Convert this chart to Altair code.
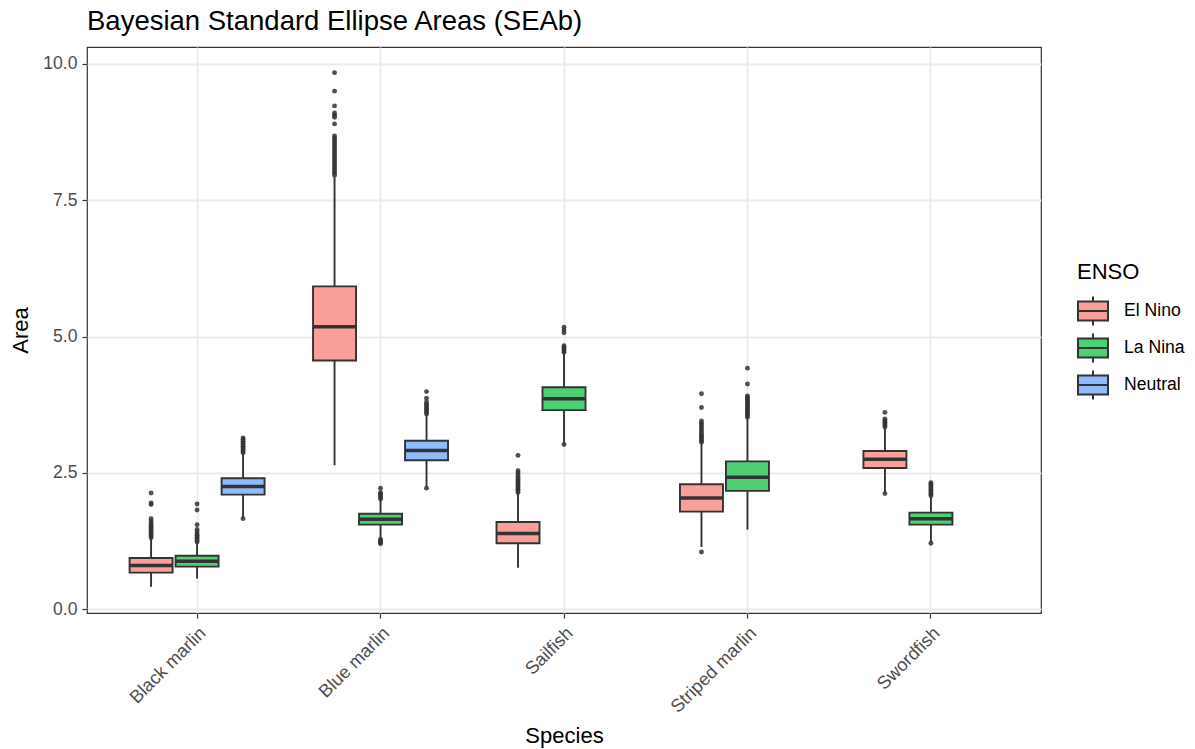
import altair as alt
import pandas as pd

# ---- data ----
species = ["Black marlin", "Black marlin", "Black marlin",
           "Blue marlin", "Blue marlin", "Blue marlin",
           "Sailfish", "Sailfish",
           "Striped marlin", "Striped marlin",
           "Swordfish", "Swordfish"]
enso = ["El Nino", "La Nina", "Neutral",
        "El Nino", "La Nina", "Neutral",
        "El Nino", "La Nina",
        "El Nino", "La Nina",
        "El Nino", "La Nina"]
lower = [0.41, 0.56, 1.68, 2.64, 1.30, 2.24, 0.76, 3.04, 1.14, 1.46, 2.14, 1.23]
q1 = [0.67, 0.78, 2.10, 4.56, 1.55, 2.73, 1.21, 3.65, 1.79, 2.17, 2.59, 1.55]
median = [0.80, 0.88, 2.25, 5.18, 1.65, 2.91, 1.39, 3.86, 2.04, 2.42, 2.75, 1.66]
q3 = [0.94, 0.98, 2.40, 5.92, 1.75, 3.09, 1.60, 4.07, 2.29, 2.71, 2.90, 1.77]
upper = [1.29, 1.21, 2.85, 7.93, 2.00, 3.56, 2.12, 4.69, 3.04, 3.50, 3.32, 2.06]
outliers = [
    [1.31, 1.34, 1.37, 1.40, 1.43, 1.46, 1.49, 1.52, 1.55, 1.58, 1.62, 1.66, 1.92, 1.95, 2.13],
    [1.23, 1.26, 1.29, 1.32, 1.35, 1.38, 1.42, 1.46, 1.55, 1.82, 1.93],
    [1.66, 2.87, 2.90, 2.93, 2.96, 2.99, 3.02, 3.05, 3.08, 3.11, 3.14],
    [7.96, 8.00, 8.04, 8.08, 8.12, 8.16, 8.20, 8.24, 8.28, 8.32, 8.36, 8.40, 8.44,
     8.48, 8.52, 8.56, 8.60, 8.64, 8.68, 8.90, 9.02, 9.06, 9.10, 9.23, 9.50, 9.84],
    [1.20, 1.22, 1.24, 1.26, 1.28, 2.02, 2.05, 2.08, 2.11, 2.14, 2.22],
    [2.22, 3.58, 3.61, 3.64, 3.67, 3.70, 3.73, 3.76, 3.80, 3.87, 3.99],
    [2.14, 2.17, 2.20, 2.23, 2.26, 2.29, 2.32, 2.35, 2.38, 2.42, 2.46, 2.50, 2.54, 2.82],
    [3.02, 4.71, 4.74, 4.77, 4.80, 4.83, 5.07, 5.12, 5.17],
    [1.05, 3.06, 3.09, 3.12, 3.15, 3.18, 3.21, 3.25, 3.29, 3.33, 3.37, 3.41, 3.45, 3.70, 3.95],
    [3.52, 3.55, 3.58, 3.61, 3.64, 3.67, 3.70, 3.73, 3.76, 3.79, 3.82, 3.85, 3.88, 3.91, 4.13, 4.42],
    [2.12, 3.34, 3.37, 3.40, 3.43, 3.46, 3.49, 3.61],
    [1.21, 2.08, 2.11, 2.14, 2.17, 2.20, 2.23, 2.26, 2.29, 2.32],
]
species_order = ["Black marlin", "Blue marlin", "Sailfish", "Striped marlin", "Swordfish"]
enso_order = ["El Nino", "La Nina", "Neutral"]
enso_colors = ["#FA9F99", "#4DCF74", "#90BAFF"]
y_ticks = [0, 2.5, 5, 7.5, 10]

box_df = pd.DataFrame({"species": species, "enso": enso, "lower": lower, "q1": q1,
                       "median": median, "q3": q3, "upper": upper})
out_df = pd.DataFrame([{"species": s, "enso": e, "value": v}
                       for s, e, vals in zip(species, enso, outliers) for v in vals])

FONT = "Liberation Sans"
DARK = "#333333"

x_enc = alt.X("species:N", sort=species_order,
              scale=alt.Scale(domain=species_order, paddingInner=0, paddingOuter=0.1),
              axis=alt.Axis(title="Species", labelAngle=-45, labelAlign="right",
                            labelBaseline="top", labelFontSize=18.2, labelColor="#4D4D4D",
                            labelPadding=6, tickSize=5, tickColor=DARK, tickWidth=1.2,
                            domain=False, grid=True, gridColor="#EBEBEB", gridWidth=1.8,
                            bandPosition=0.5, titleFontSize=22, titleFontWeight="normal",
                            titleColor="black", titlePadding=10, labelOverlap=False))
xo_enc = alt.XOffset("enso:N", sort=enso_order,
                     scale=alt.Scale(domain=enso_order, paddingInner=0.065, paddingOuter=0.527))
y_scale = alt.Scale(domain=[-0.07, 10.31], nice=False, zero=False)
y_axis = alt.Axis(title="Area", values=y_ticks, format=".1f", labelFontSize=17.6,
                  labelColor="#4D4D4D", labelPadding=5, tickSize=5, tickColor=DARK,
                  tickWidth=1.2, domain=False, grid=True, gridColor="#EBEBEB",
                  gridWidth=1.8, titleFontSize=22, titleFontWeight="normal",
                  titleColor="black", titlePadding=10)

base = alt.Chart(box_df).encode(x=x_enc, xOffset=xo_enc)

whisk = base.mark_rule(color=DARK, strokeWidth=1.9).encode(
    y=alt.Y("lower:Q", scale=y_scale, axis=y_axis), y2="upper:Q")

legend_path = "M-1,-0.64H1V0.64H-1Z M-1,0H1 M0,-0.64V-0.97 M0,0.64V0.97"
boxes = base.mark_bar(stroke=DARK, strokeWidth=1.9, opacity=1).encode(
    y=alt.Y("q1:Q", scale=y_scale, axis=y_axis), y2="q3:Q",
    fill=alt.Fill("enso:N", sort=enso_order,
                  scale=alt.Scale(domain=enso_order, range=enso_colors),
                  legend=alt.Legend(title="ENSO", orient="none", legendX=990, legendY=215,
                                    symbolType=legend_path, symbolSize=900,
                                    symbolStrokeColor=DARK, symbolStrokeWidth=2,
                                    symbolOpacity=1, labelFontSize=17.6, labelColor="black",
                                    labelOffset=15, titleFontSize=22,
                                    titleFontWeight="normal", titleColor="black",
                                    titlePadding=11, rowPadding=-1, padding=0)))

med = base.mark_tick(color=DARK, thickness=3.5, size=43, opacity=1).encode(
    y=alt.Y("median:Q", scale=y_scale, axis=y_axis))

pts = alt.Chart(out_df).mark_circle(color=DARK, size=24, opacity=0.85).encode(
    x=x_enc, xOffset=xo_enc, y=alt.Y("value:Q", scale=y_scale, axis=y_axis))

chart = alt.layer(whisk, boxes, med, pts).properties(
    width=954, height=566,
    title=alt.TitleParams("Bayesian Standard Ellipse Areas (SEAb)", anchor="start",
                          frame="group", fontSize=27.5, font=FONT, fontWeight="normal",
                          color="black", offset=12),
    autosize=alt.AutoSizeParams(type="none"),
    padding={"left": 87, "top": 47, "right": 154, "bottom": 136},
).configure(font=FONT).configure_view(stroke=DARK, strokeWidth=1.2).configure_axis(
    labelFont=FONT, titleFont=FONT).configure_legend(labelFont=FONT, titleFont=FONT)

chart.save("out.html", embed_options={"renderer": "svg", "actions": False})
